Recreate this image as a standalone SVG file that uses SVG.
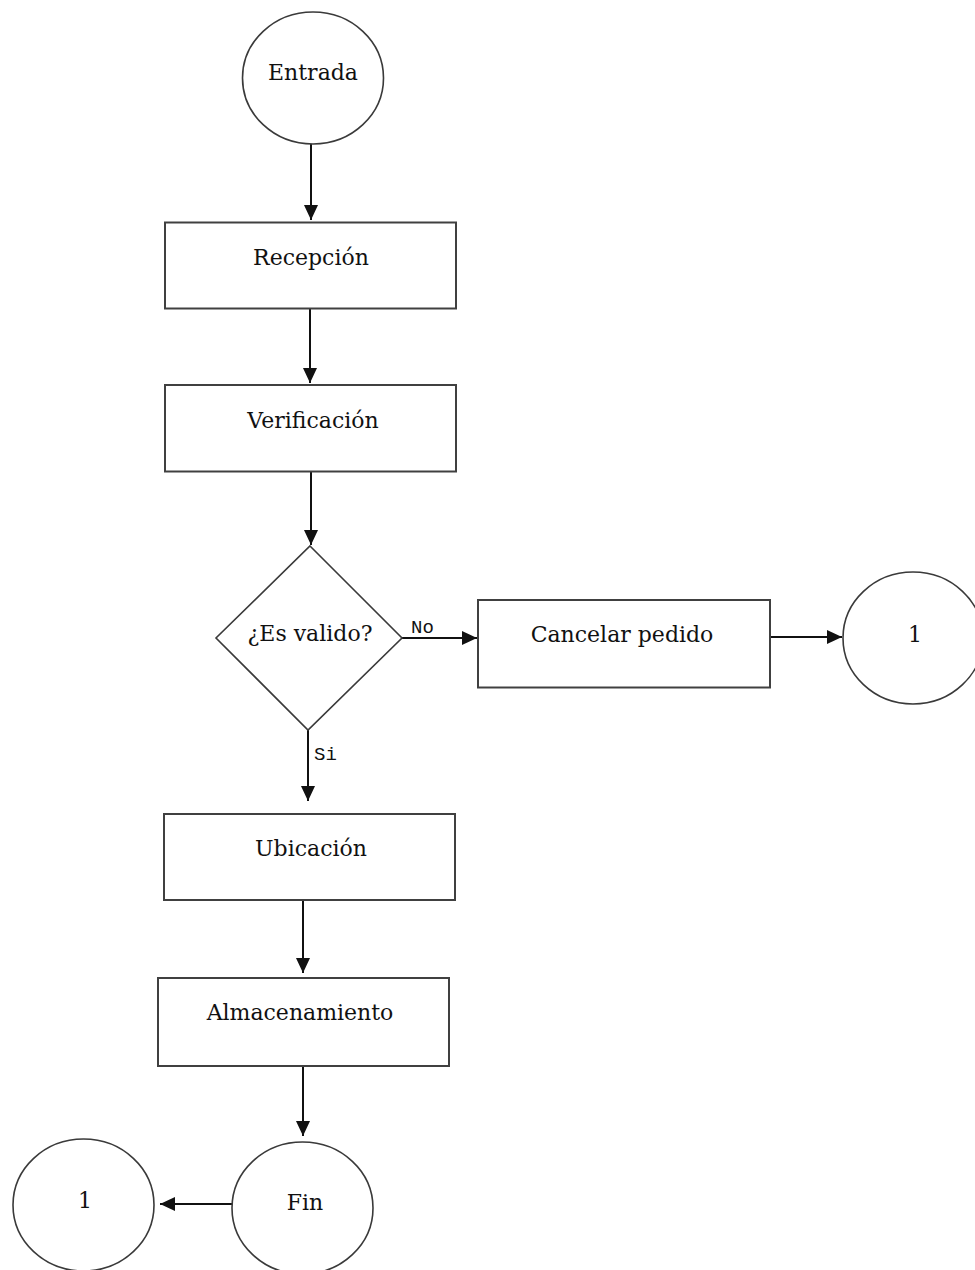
<svg xmlns="http://www.w3.org/2000/svg" width="975" height="1270" viewBox="0 0 975 1270">
  <style>
    .shape { fill: #ffffff; stroke: #3a3a3a; stroke-width: 1.6; }
    .box { fill: #ffffff; stroke: #404040; stroke-width: 2; }
    .label { font-family: "DejaVu Serif", "Liberation Serif", serif; font-size: 22px; fill: #111; text-anchor: middle; }
    .tag { font-family: "Liberation Mono", "DejaVu Sans Mono", monospace; font-size: 19px; fill: #111; }
    .edge { stroke: #111; stroke-width: 2; fill: none; }
  </style>
  <defs>
    <marker id="arrow" markerUnits="userSpaceOnUse" markerWidth="15" markerHeight="16" viewBox="0 0 15 16" refX="15" refY="8" orient="auto">
      <path d="M0,1 L15,8 L0,15 Z" fill="#111"/>
    </marker>
  </defs>
  <rect width="975" height="1270" fill="#ffffff"/>

  <g id="connectors">
    <line class="edge" x1="311" y1="144" x2="311" y2="220" marker-end="url(#arrow)"/>
    <line class="edge" x1="310" y1="309" x2="310" y2="383" marker-end="url(#arrow)"/>
    <line class="edge" x1="311" y1="472" x2="311" y2="545" marker-end="url(#arrow)"/>
    <line class="edge" x1="402" y1="638" x2="477" y2="638" marker-end="url(#arrow)"/>
    <line class="edge" x1="770" y1="637" x2="842" y2="637" marker-end="url(#arrow)"/>
    <line class="edge" x1="308" y1="730" x2="308" y2="801" marker-end="url(#arrow)"/>
    <line class="edge" x1="303" y1="900" x2="303" y2="973" marker-end="url(#arrow)"/>
    <line class="edge" x1="303" y1="1066" x2="303" y2="1136" marker-end="url(#arrow)"/>
    <line class="edge" x1="232" y1="1204" x2="160" y2="1204" marker-end="url(#arrow)"/>
    <text class="tag" x="411" y="633">No</text>
    <text class="tag" x="314" y="760">Si</text>
  </g>

  <g id="entrada">
    <ellipse class="shape" cx="313" cy="78" rx="70.5" ry="66"/>
    <text class="label" x="313" y="80">Entrada</text>
  </g>

  <g id="recepcion">
    <rect class="box" x="165" y="222.5" width="291" height="86"/>
    <text class="label" x="311" y="265">Recepción</text>
  </g>

  <g id="verificacion">
    <rect class="box" x="165" y="385" width="291" height="86.5"/>
    <text class="label" x="313" y="428">Verificación</text>
  </g>

  <g id="es-valido">
    <polygon class="shape" points="310,546 402,638 308,730 216,638"/>
    <text class="label" x="310" y="641">¿Es valido?</text>
  </g>

  <g id="cancelar">
    <rect class="box" x="478" y="600" width="292" height="87.5"/>
    <text class="label" x="622" y="642">Cancelar pedido</text>
  </g>

  <g id="conector-1-derecha">
    <ellipse class="shape" cx="913" cy="638" rx="70" ry="66"/>
    <text class="label" x="915" y="642">1</text>
  </g>

  <g id="ubicacion">
    <rect class="box" x="164" y="814" width="291" height="86"/>
    <text class="label" x="311" y="856">Ubicación</text>
  </g>

  <g id="almacenamiento">
    <rect class="box" x="158" y="978" width="291" height="88"/>
    <text class="label" x="300" y="1020">Almacenamiento</text>
  </g>

  <g id="fin">
    <ellipse class="shape" cx="302.5" cy="1208" rx="70.5" ry="66"/>
    <text class="label" x="305" y="1210">Fin</text>
  </g>

  <g id="conector-1-izquierda">
    <ellipse class="shape" cx="83.5" cy="1205" rx="70.5" ry="66"/>
    <text class="label" x="85" y="1208">1</text>
  </g>
</svg>
